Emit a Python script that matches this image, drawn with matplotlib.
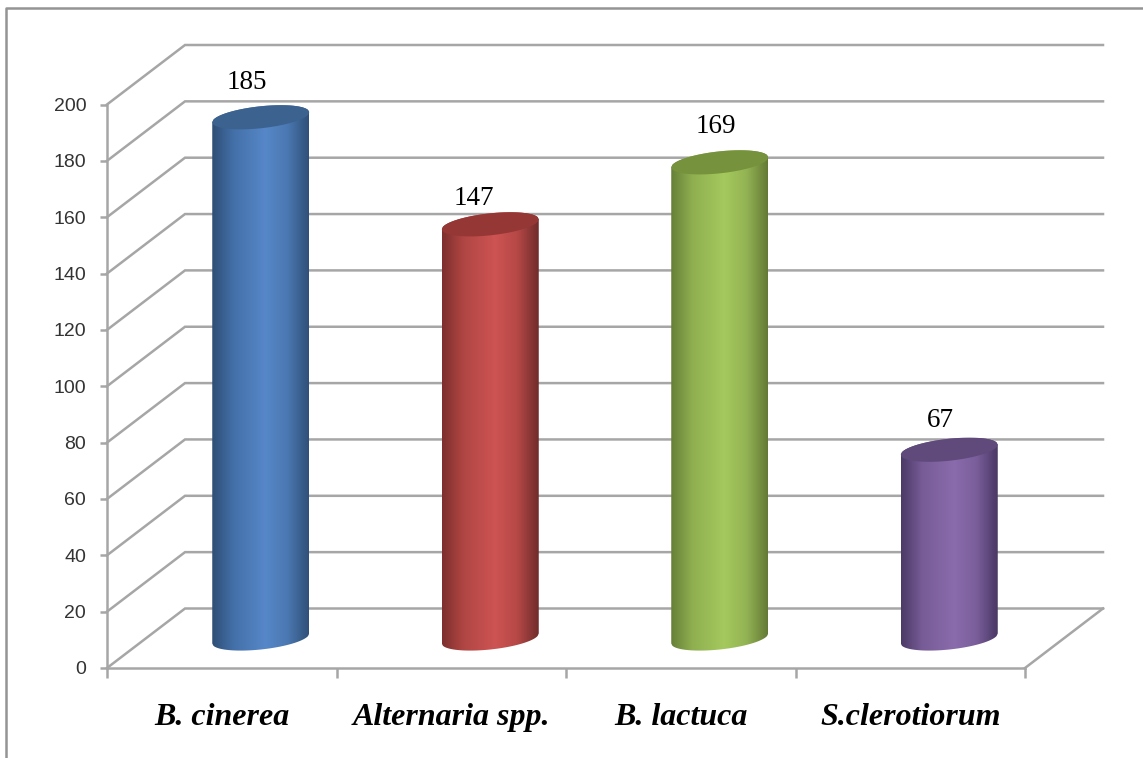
import numpy as np
import matplotlib
matplotlib.use("Agg")
import matplotlib.pyplot as plt
from matplotlib.colors import LinearSegmentedColormap
from matplotlib.lines import Line2D
from matplotlib.patches import PathPatch
from matplotlib.path import Path

categories = ["B. cinerea", "Alternaria spp.", "B. lactuca", "S.clerotiorum"]
values = [185, 147, 169, 67]
y_ticks = list(range(0, 201, 20))
body_colors = [
    ["#2E4E75", "#4470A8", "#5687C8", "#4B78B2", "#2F5078"],
    ["#7C2F2E", "#B04644", "#CD5452", "#B54846", "#6E2C2B"],
    ["#667F37", "#8FAF50", "#A5C95E", "#93B353", "#637A35"],
    ["#4C3A66", "#775C97", "#8A6BAC", "#7A5E9B", "#493864"],
]
top_colors = ["#3C638F", "#953735", "#76923C", "#5F4A7B"]
label_offsets_px = [(-14, 35), (-16, 26), (-4, 36), (-9, 29)]

W, H = 1143, 758
L, R, B, T = 107, 1025, 668, 104.5
GRID = "#A6A6A6"
DX_PX, DY_PX = 78, 59.5

fig = plt.figure(figsize=(W / 100, H / 100), dpi=100, facecolor="white")
ax = fig.add_axes([L / W, 1 - B / H, (R - L) / W, (B - T) / H])
ax.set_xlim(0, 4)
ax.set_ylim(0, 200)
ax.patch.set_visible(False)
px_x = 4 / (R - L)
px_y = 200 / (B - T)
dx, dy = DX_PX * px_x, DY_PX * px_y

# frame
fig.add_artist(Line2D([6 / W, 6 / W, 1], [0, 1 - 8 / H, 1 - 8 / H], color="#949494", lw=1.8))

# gridlines on the back wall and side wall
for v in y_ticks:
    ax.plot([0, dx, 4 + dx], [v, v + dy, v + dy], color=GRID, lw=1.8, clip_on=False, zorder=1, solid_joinstyle="miter")
ax.plot([4, 4 + dx], [0, dy], color=GRID, lw=1.8, clip_on=False, zorder=1)

# axes
for s in ["top", "right"]:
    ax.spines[s].set_visible(False)
for s in ["left", "bottom"]:
    ax.spines[s].set_color(GRID)
    ax.spines[s].set_linewidth(1.8)
ax.set_yticks(y_ticks)
ax.set_xticks(range(5))
ax.set_xticklabels([])
ax.set_xticks(np.arange(4) + 0.5, minor=True)
ax.set_xticklabels(categories, minor=True, family="Liberation Serif", style="italic", fontweight="bold", fontsize=23)
ax.tick_params(axis="x", which="minor", length=0, pad=25)
ax.tick_params(axis="x", which="major", length=7.5, width=1.8, color=GRID)
ax.tick_params(axis="y", length=5, width=1.8, color=GRID, pad=10, labelsize=14, labelcolor="#333333")
for t in ax.get_yticklabels():
    t.set_family("Liberation Sans")

# cylinders
half_w = 48.5 * px_x
shear = 5 * px_y
minor = 11 * px_y
u = np.linspace(-1, 1, 80)
for i, (v, cols, top, off) in enumerate(zip(values, body_colors, top_colors, label_offsets_px)):
    cx = i + 0.5 + dx / 2
    y0 = 29.5 * px_y
    y1 = v + y0
    xs = cx + half_w * u
    low0 = y0 + shear * u - minor * np.sqrt(1 - u ** 2)
    up1 = y1 + shear * u + minor * np.sqrt(1 - u ** 2)
    low1 = y1 + shear * u - minor * np.sqrt(1 - u ** 2)
    body = np.column_stack([np.r_[xs, xs[::-1]], np.r_[low0, up1[::-1]]])
    path = Path(np.vstack([body, body[0]]), closed=True)
    cmap = LinearSegmentedColormap.from_list(
        "c", list(zip([0, 0.22, 0.55, 0.78, 1], cols))
    )
    im = ax.imshow(
        np.linspace(0, 1, 256)[None, :], cmap=cmap, aspect="auto",
        extent=[cx - half_w, cx + half_w, low0.min(), up1.max()],
        zorder=3, clip_on=True,
    )
    im.set_clip_path(PathPatch(path, transform=ax.transData))
    cap = np.column_stack([np.r_[xs, xs[::-1]], np.r_[low1, up1[::-1]]])
    ax.fill(cap[:, 0], cap[:, 1], color=top, lw=0, zorder=4, clip_on=False)
    ax.text(cx + off[0] * px_x, y1 + off[1] * px_y, str(v), ha="center", va="center",
            family="Liberation Serif", fontsize=19.5, color="black", zorder=5, clip_on=False)

ax.set_xlim(0, 4)
ax.set_ylim(0, 200)
fig.savefig("out.png", dpi=100)
